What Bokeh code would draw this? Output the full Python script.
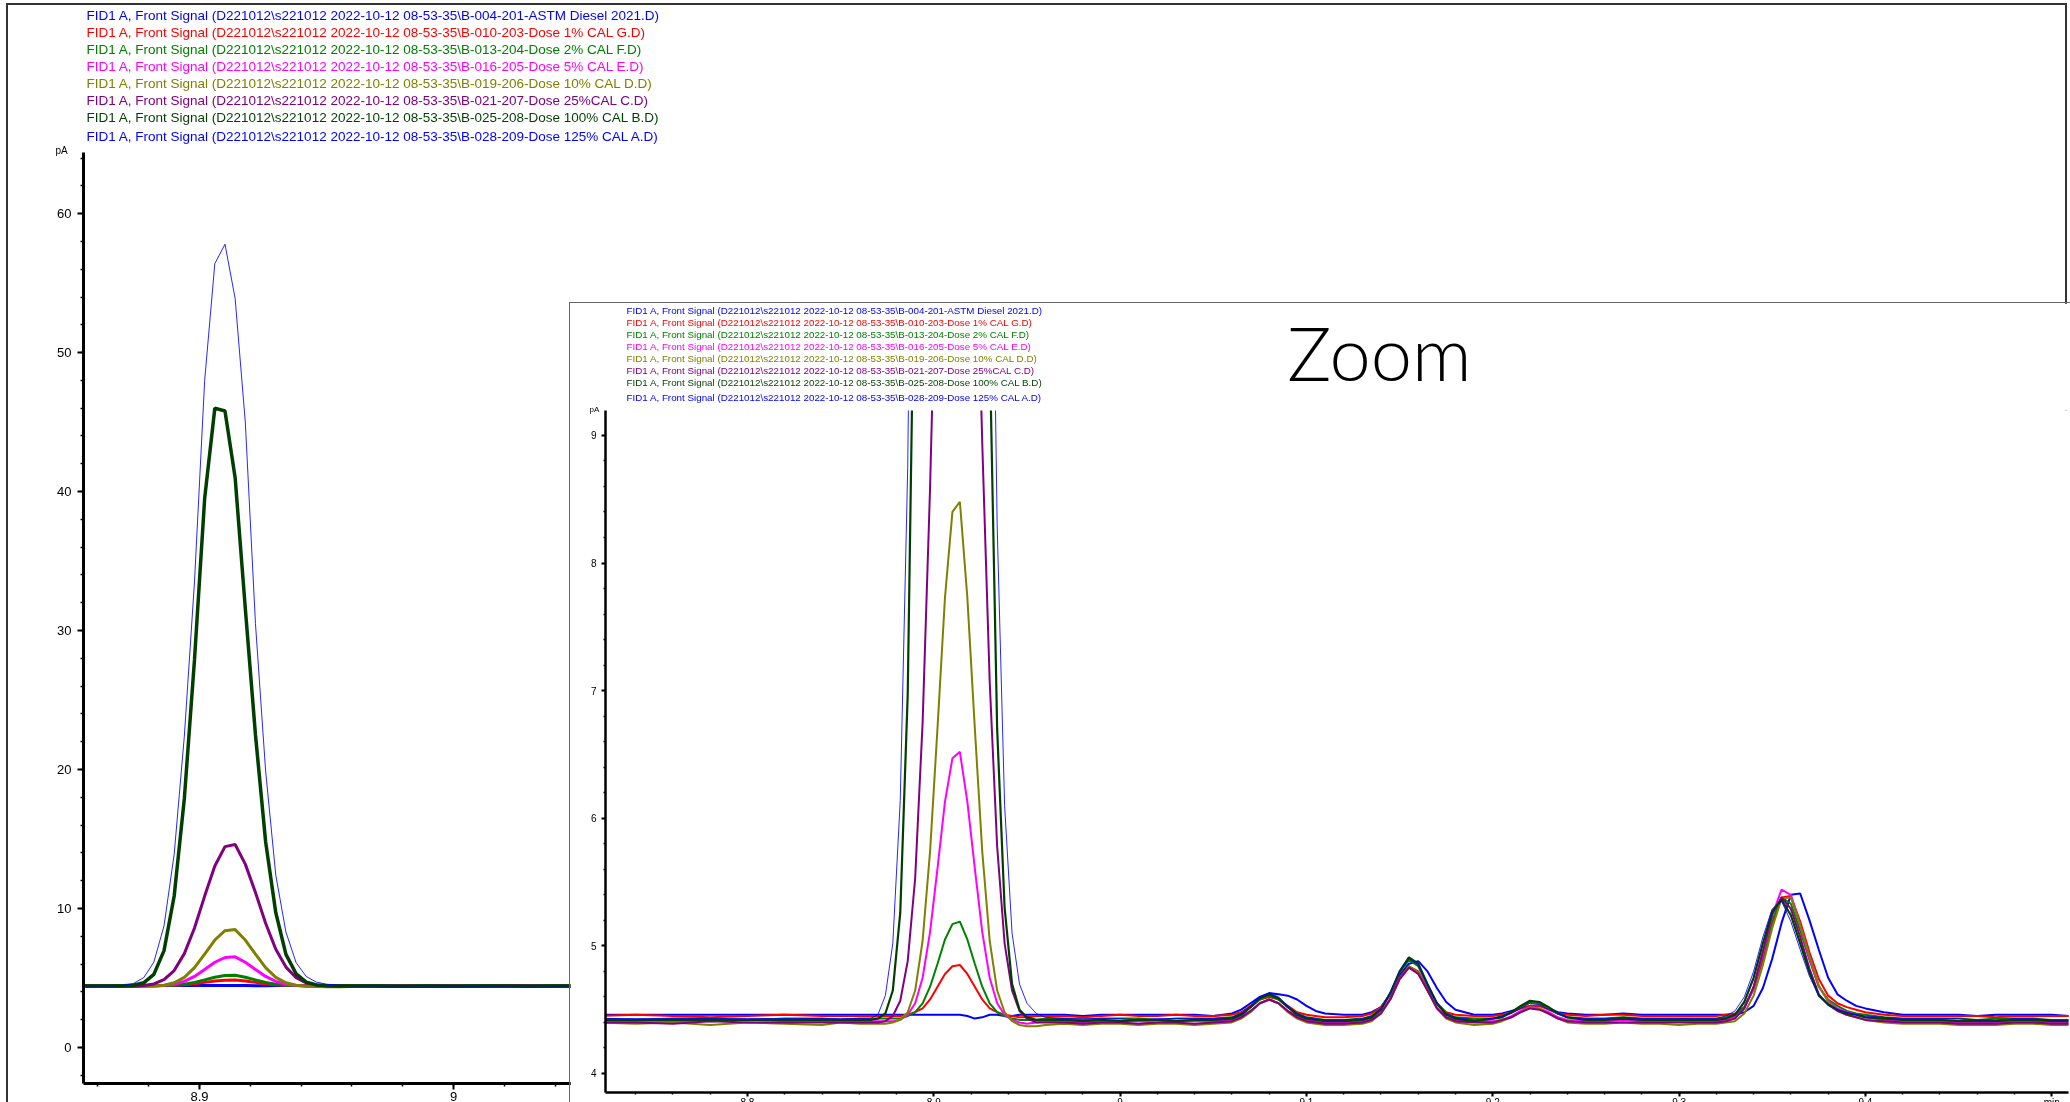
from bokeh.plotting import figure
from bokeh.models import Range1d, Title, Label, SingleIntervalTicker, CustomJSTickFormatter
from bokeh.embed import file_html
from bokeh.resources import INLINE

# ---------------- data (retention time in min, signal in pA) ----------------
time_min = [
    8.72, 8.74, 8.76, 8.78, 8.80, 8.82, 8.84, 8.85, 8.86,
    8.866, 8.870, 8.874, 8.878, 8.882, 8.886, 8.890, 8.894, 8.898, 8.902, 8.906, 8.910,
    8.914, 8.918, 8.922, 8.926, 8.930, 8.934, 8.938, 8.942, 8.946, 8.950, 8.955, 8.96,
    8.97, 8.98, 8.99, 9.00, 9.01, 9.02, 9.03, 9.04, 9.05,
    9.06, 9.065, 9.07, 9.075, 9.08, 9.085, 9.09, 9.095, 9.10, 9.105, 9.11, 9.12,
    9.13, 9.135, 9.14, 9.145, 9.15, 9.155, 9.16, 9.165, 9.17, 9.175, 9.18, 9.19,
    9.20, 9.205, 9.21, 9.215, 9.22, 9.225, 9.23, 9.235, 9.24, 9.25,
    9.26, 9.27, 9.28, 9.29, 9.30, 9.31,
    9.32, 9.325, 9.33, 9.335, 9.34, 9.345, 9.35, 9.355, 9.36, 9.365, 9.37, 9.375, 9.38,
    9.385, 9.39, 9.395, 9.40, 9.41, 9.42,
    9.43, 9.44, 9.45, 9.46, 9.47, 9.48, 9.49, 9.50, 9.51,
]

astm_diesel = [
    4.46, 4.46, 4.46, 4.46, 4.46, 4.46, 4.46, 4.46, 4.46,
    4.46, 4.46, 4.46, 4.46, 4.46, 4.46, 4.46, 4.46, 4.46, 4.46, 4.46, 4.46,
    4.46, 4.45, 4.43, 4.44, 4.46, 4.46, 4.45, 4.45, 4.46, 4.46, 4.46, 4.46,
    4.46, 4.45, 4.46, 4.46, 4.46, 4.46, 4.46, 4.46, 4.45,
    4.47, 4.50, 4.55, 4.60, 4.63, 4.62, 4.61, 4.58, 4.53, 4.49, 4.47, 4.46,
    4.46, 4.48, 4.52, 4.62, 4.77, 4.86, 4.88, 4.80, 4.67, 4.56, 4.50, 4.46,
    4.46, 4.47, 4.49, 4.51, 4.53, 4.53, 4.51, 4.48, 4.47, 4.46,
    4.46, 4.47, 4.46, 4.46, 4.46, 4.46,
    4.46, 4.46, 4.46, 4.48, 4.53, 4.67, 4.90, 5.18, 5.40, 5.41, 5.20, 4.97, 4.75,
    4.62, 4.57, 4.53, 4.51, 4.48, 4.46,
    4.46, 4.46, 4.46, 4.45, 4.46, 4.46, 4.46, 4.46, 4.45,
]
dose_1 = [
    4.45, 4.46, 4.45, 4.44, 4.45, 4.46, 4.45, 4.45, 4.45,
    4.45, 4.45, 4.45, 4.45, 4.45, 4.46, 4.48, 4.51, 4.58, 4.68, 4.78, 4.84,
    4.85, 4.78, 4.68, 4.58, 4.51, 4.48, 4.46, 4.45, 4.44, 4.44, 4.45, 4.45,
    4.45, 4.44, 4.45, 4.46, 4.45, 4.45, 4.46, 4.45, 4.45,
    4.46, 4.48, 4.53, 4.58, 4.60, 4.58, 4.53, 4.48, 4.46, 4.45, 4.44, 4.44,
    4.45, 4.47, 4.52, 4.62, 4.75, 4.84, 4.80, 4.67, 4.55, 4.48, 4.46, 4.45,
    4.45, 4.46, 4.48, 4.51, 4.53, 4.53, 4.50, 4.47, 4.46, 4.45,
    4.46, 4.46, 4.45, 4.45, 4.45, 4.45,
    4.45, 4.46, 4.47, 4.52, 4.66, 4.89, 5.16, 5.38, 5.39, 5.19, 4.95, 4.74, 4.61,
    4.55, 4.52, 4.50, 4.48, 4.46, 4.45,
    4.45, 4.45, 4.45, 4.45, 4.44, 4.45, 4.45, 4.45, 4.45,
]
dose_2 = [
    4.43, 4.42, 4.43, 4.43, 4.42, 4.43, 4.43, 4.42, 4.43,
    4.43, 4.43, 4.43, 4.43, 4.43, 4.45, 4.48, 4.55, 4.68, 4.86, 5.05, 5.17,
    5.19, 5.05, 4.86, 4.68, 4.55, 4.48, 4.45, 4.43, 4.42, 4.42, 4.42, 4.43,
    4.43, 4.42, 4.43, 4.43, 4.43, 4.42, 4.43, 4.43, 4.43,
    4.44, 4.47, 4.52, 4.58, 4.61, 4.58, 4.52, 4.47, 4.44, 4.43, 4.42, 4.42,
    4.43, 4.45, 4.51, 4.63, 4.79, 4.89, 4.84, 4.69, 4.55, 4.47, 4.44, 4.43,
    4.43, 4.45, 4.48, 4.52, 4.56, 4.55, 4.51, 4.47, 4.44, 4.43,
    4.43, 4.44, 4.43, 4.43, 4.43, 4.43,
    4.43, 4.44, 4.45, 4.52, 4.67, 4.92, 5.20, 5.38, 5.33, 5.12, 4.89, 4.68, 4.58,
    4.53, 4.49, 4.47, 4.46, 4.44, 4.43,
    4.43, 4.43, 4.43, 4.42, 4.43, 4.43, 4.43, 4.42, 4.42,
]
dose_5 = [
    4.41, 4.41, 4.41, 4.41, 4.42, 4.41, 4.41, 4.41, 4.41,
    4.41, 4.41, 4.41, 4.41, 4.42, 4.46, 4.55, 4.75, 5.11, 5.61, 6.13, 6.47,
    6.52, 6.13, 5.61, 5.11, 4.75, 4.55, 4.46, 4.42, 4.40, 4.39, 4.40, 4.41,
    4.41, 4.40, 4.41, 4.41, 4.41, 4.40, 4.41, 4.41, 4.41,
    4.42, 4.45, 4.49, 4.55, 4.58, 4.55, 4.49, 4.45, 4.42, 4.41, 4.40, 4.40,
    4.41, 4.43, 4.48, 4.59, 4.74, 4.83, 4.79, 4.65, 4.52, 4.44, 4.42, 4.41,
    4.41, 4.42, 4.45, 4.49, 4.52, 4.51, 4.48, 4.44, 4.42, 4.41,
    4.41, 4.42, 4.41, 4.41, 4.41, 4.41,
    4.41, 4.42, 4.44, 4.51, 4.67, 4.94, 5.24, 5.44, 5.40, 5.16, 4.90, 4.68, 4.57,
    4.51, 4.48, 4.46, 4.44, 4.42, 4.41,
    4.41, 4.41, 4.40, 4.40, 4.40, 4.41, 4.41, 4.40, 4.40,
]
dose_10 = [
    4.40, 4.39, 4.40, 4.38, 4.40, 4.39, 4.38, 4.40, 4.39,
    4.39, 4.39, 4.39, 4.40, 4.42, 4.48, 4.65, 5.04, 5.74, 6.71, 7.73, 8.40,
    8.48, 7.73, 6.71, 5.74, 5.04, 4.65, 4.48, 4.41, 4.38, 4.37, 4.37, 4.38,
    4.39, 4.38, 4.39, 4.39, 4.38, 4.39, 4.39, 4.38, 4.39,
    4.40, 4.43, 4.48, 4.55, 4.58, 4.55, 4.48, 4.43, 4.40, 4.39, 4.38, 4.38,
    4.39, 4.41, 4.47, 4.58, 4.74, 4.84, 4.79, 4.65, 4.51, 4.43, 4.40, 4.38,
    4.39, 4.41, 4.44, 4.48, 4.52, 4.51, 4.47, 4.43, 4.40, 4.39,
    4.39, 4.40, 4.39, 4.39, 4.38, 4.39,
    4.39, 4.40, 4.41, 4.47, 4.61, 4.85, 5.14, 5.37, 5.38, 5.16, 4.92, 4.69, 4.56,
    4.50, 4.46, 4.44, 4.42, 4.40, 4.39,
    4.39, 4.39, 4.38, 4.38, 4.38, 4.39, 4.39, 4.38, 4.38,
]
dose_25 = [
    4.40, 4.40, 4.39, 4.41, 4.40, 4.40, 4.40, 4.40, 4.40,
    4.40, 4.40, 4.41, 4.45, 4.57, 4.88, 5.53, 6.75, 8.59, 10.89, 13.06, 14.45,
    14.60, 13.19, 11.15, 8.94, 7.07, 5.78, 5.02, 4.65, 4.49, 4.43, 4.40, 4.40,
    4.40, 4.39, 4.40, 4.40, 4.39, 4.40, 4.40, 4.39, 4.40,
    4.41, 4.44, 4.49, 4.55, 4.58, 4.55, 4.49, 4.44, 4.41, 4.40, 4.39, 4.39,
    4.40, 4.42, 4.47, 4.58, 4.74, 4.83, 4.78, 4.65, 4.51, 4.44, 4.41, 4.40,
    4.40, 4.42, 4.44, 4.48, 4.51, 4.50, 4.47, 4.43, 4.41, 4.40,
    4.40, 4.40, 4.40, 4.40, 4.40, 4.40,
    4.40, 4.41, 4.43, 4.51, 4.68, 4.96, 5.25, 5.38, 5.29, 5.07, 4.82, 4.62, 4.54,
    4.49, 4.46, 4.44, 4.42, 4.41, 4.40,
    4.40, 4.40, 4.39, 4.39, 4.39, 4.40, 4.40, 4.39, 4.39,
]
dose_100 = [
    4.42, 4.42, 4.42, 4.42, 4.42, 4.42, 4.42, 4.42, 4.42,
    4.42, 4.43, 4.47, 4.65, 5.26, 6.97, 10.9, 17.9, 27.9, 39.5, 46.0, 45.8,
    41.0, 31.6, 22.5, 14.8, 9.7, 6.7, 5.3, 4.7, 4.5, 4.44, 4.42, 4.42,
    4.42, 4.41, 4.42, 4.41, 4.42, 4.42, 4.41, 4.42, 4.42,
    4.43, 4.46, 4.52, 4.59, 4.62, 4.59, 4.52, 4.46, 4.43, 4.42, 4.41, 4.41,
    4.42, 4.44, 4.50, 4.63, 4.80, 4.91, 4.86, 4.70, 4.55, 4.46, 4.43, 4.41,
    4.43, 4.44, 4.48, 4.53, 4.57, 4.56, 4.52, 4.47, 4.44, 4.42,
    4.42, 4.43, 4.42, 4.42, 4.42, 4.42,
    4.42, 4.43, 4.46, 4.56, 4.75, 5.02, 5.27, 5.36, 5.24, 5.02, 4.79, 4.61, 4.54,
    4.50, 4.47, 4.46, 4.44, 4.43, 4.42,
    4.42, 4.42, 4.41, 4.41, 4.41, 4.42, 4.42, 4.41, 4.41,
]
dose_125 = [
    4.43, 4.43, 4.43, 4.43, 4.43, 4.43, 4.43, 4.43, 4.43,
    4.43, 4.46, 4.61, 5.02, 6.14, 8.75, 13.9, 22.4, 33.5, 48.0, 56.4, 57.8,
    53.9, 45.0, 30.5, 19.9, 12.4, 8.3, 6.1, 5.1, 4.7, 4.55, 4.47, 4.44,
    4.43, 4.43, 4.43, 4.43, 4.42, 4.43, 4.43, 4.43, 4.43,
    4.44, 4.47, 4.53, 4.60, 4.63, 4.60, 4.53, 4.47, 4.44, 4.43, 4.42, 4.42,
    4.43, 4.45, 4.51, 4.63, 4.80, 4.90, 4.85, 4.70, 4.55, 4.47, 4.44, 4.42,
    4.43, 4.45, 4.47, 4.51, 4.55, 4.54, 4.50, 4.47, 4.44, 4.43,
    4.43, 4.44, 4.43, 4.43, 4.43, 4.43,
    4.43, 4.45, 4.49, 4.60, 4.80, 5.07, 5.29, 5.35, 5.19, 4.97, 4.76, 4.61, 4.54,
    4.50, 4.48, 4.46, 4.45, 4.44, 4.43,
    4.43, 4.43, 4.43, 4.42, 4.42, 4.43, 4.43, 4.42, 4.42,
]

series = [astm_diesel, dose_1, dose_2, dose_5, dose_10, dose_25, dose_100, dose_125]
series_labels = [
    "FID1 A, Front Signal (D221012\\s221012 2022-10-12 08-53-35\\B-004-201-ASTM Diesel 2021.D)",
    "FID1 A, Front Signal (D221012\\s221012 2022-10-12 08-53-35\\B-010-203-Dose 1%  CAL G.D)",
    "FID1 A, Front Signal (D221012\\s221012 2022-10-12 08-53-35\\B-013-204-Dose 2%  CAL F.D)",
    "FID1 A, Front Signal (D221012\\s221012 2022-10-12 08-53-35\\B-016-205-Dose 5% CAL E.D)",
    "FID1 A, Front Signal (D221012\\s221012 2022-10-12 08-53-35\\B-019-206-Dose 10%  CAL D.D)",
    "FID1 A, Front Signal (D221012\\s221012 2022-10-12 08-53-35\\B-021-207-Dose 25%CAL C.D)",
    "FID1 A, Front Signal (D221012\\s221012 2022-10-12 08-53-35\\B-025-208-Dose 100% CAL B.D)",
    "FID1 A, Front Signal (D221012\\s221012 2022-10-12 08-53-35\\B-028-209-Dose 125% CAL A.D)",
]
series_colors = ["#0000ff", "#ff0000", "#008000", "#ff00ff", "#808000", "#800080", "#003f00", "#0000ff"]
main_widths = [3, 3, 3, 3, 3, 3, 3.5, 1]
inset_widths = [2, 2, 2, 2, 2, 2, 2.2, 1]
y_unit = "pA"
x_unit = "min"
inset_caption = "Zoom"

FONT = "Liberation Sans"


def style_axes(p, tick_size, x_interval, y_interval, tick_out, minor_out, axis_w, std_x, std_y):
    for ax in (p.xaxis[0], p.yaxis[0]):
        ax.axis_line_width = axis_w
        ax.axis_line_color = "black"
        ax.major_tick_in = 0
        ax.minor_tick_in = 0
        ax.major_tick_out = tick_out
        ax.minor_tick_out = minor_out
        ax.major_tick_line_width = 2
        ax.minor_tick_line_width = 1.5
        ax.major_tick_line_color = "black"
        ax.minor_tick_line_color = "black"
        ax.major_label_text_font = FONT
        ax.major_label_text_font_size = tick_size
        ax.major_label_text_color = "black"
    p.xaxis[0].ticker = SingleIntervalTicker(interval=x_interval, num_minor_ticks=5)
    p.yaxis[0].ticker = SingleIntervalTicker(interval=y_interval, num_minor_ticks=5)
    p.xaxis[0].major_label_standoff = std_x
    p.yaxis[0].major_label_standoff = std_y
    p.xgrid.visible = False
    p.ygrid.visible = False
    p.outline_line_color = None


def add_header(p, font_size, offset, gap, last_gap, unit_size, unit_offset, unit_gap):
    # "above" panels: the first one added sits right on top of the frame
    p.add_layout(Title(text=y_unit, align="left", offset=unit_offset, standoff=unit_gap,
                       text_font=FONT, text_font_size=unit_size, text_font_style="normal",
                       text_color="black"), "above")
    for i, (lab, col) in enumerate(reversed(list(zip(series_labels, series_colors)))):
        p.add_layout(Title(text=lab, align="left", offset=offset,
                           standoff=(last_gap if i == 0 else gap),
                           text_font=FONT, text_font_size=font_size,
                           text_font_style="normal", text_color=col), "above")


# ---------------- main (full scale) chromatogram ----------------
main = figure(width=2057, height=1130,
              x_range=Range1d(8.8543, 9.6287), y_range=Range1d(-2.596, 64.399),
              output_backend="svg", toolbar_location=None, title=None,
              min_border_left=75, min_border_right=15, min_border_top=0, min_border_bottom=52,
              background_fill_color="white", border_fill_color="white")
style_axes(main, "13px", 0.1, 10, 6, 3, 3, 2, 6)
main.xaxis[0].formatter = CustomJSTickFormatter(code="return String(Math.round(tick*100)/100);")
for s, c, w in zip(series, series_colors, main_widths):
    main.line(time_min, s, line_color=c, line_width=w, line_alpha=(0.85 if w < 2 else 1.0))
add_header(main, "13.5px", 3, -0.45, 5.35, "10px", -28, -7)
main.styles = {"position": "fixed", "left": "8px", "top": "5px", "outline": "2px solid #333"}

# ---------------- inset (zoomed) chromatogram ----------------
inset = figure(width=1500, height=830,
               x_range=Range1d(8.7238, 9.5090), y_range=Range1d(3.851, 9.195),
               output_backend="svg", toolbar_location=None, title=None,
               min_border_left=35, min_border_right=2, min_border_top=0, min_border_bottom=41,
               background_fill_color="white", border_fill_color="white")
style_axes(inset, "10px", 0.1, 1, 4, 2, 2.5, 0, 5)
inset.xaxis[0].formatter = CustomJSTickFormatter(
    args={"last": 9.5, "unit": x_unit},
    code="const v = Math.round(tick*100)/100; return Math.abs(v-last) < 1e-6 ? unit : String(v);")
for s, c, w in zip(series, series_colors, inset_widths):
    inset.line(time_min, s, line_color=c, line_width=w, line_alpha=(0.85 if w < 2 else 1.0))
add_header(inset, "9.8px", 21, -0.54, 4.5, "8px", -16, -6)
inset.styles = {"position": "fixed", "left": "570px", "top": "303px", "outline": "1px solid #666"}

# ---------------- caption of the inset ----------------
caption = figure(width=260, height=100, output_backend="svg", toolbar_location=None, title=None,
                 x_axis_location=None, y_axis_location=None,
                 min_border_left=0, min_border_right=0, min_border_top=0, min_border_bottom=0,
                 background_fill_alpha=0, border_fill_alpha=0)
caption.outline_line_color = None
caption.xgrid.visible = False
caption.ygrid.visible = False
caption.add_layout(Label(x=130, y=50, x_units="screen", y_units="screen", text=inset_caption,
                         text_align="center", text_baseline="middle",
                         text_font="Lato Light, Lato", text_font_size="74px", text_color="black"))
caption.styles = {"position": "fixed", "left": "1249px", "top": "302px"}

p = [main, inset, caption]
open("out.html", "w").write(file_html(p, INLINE))
